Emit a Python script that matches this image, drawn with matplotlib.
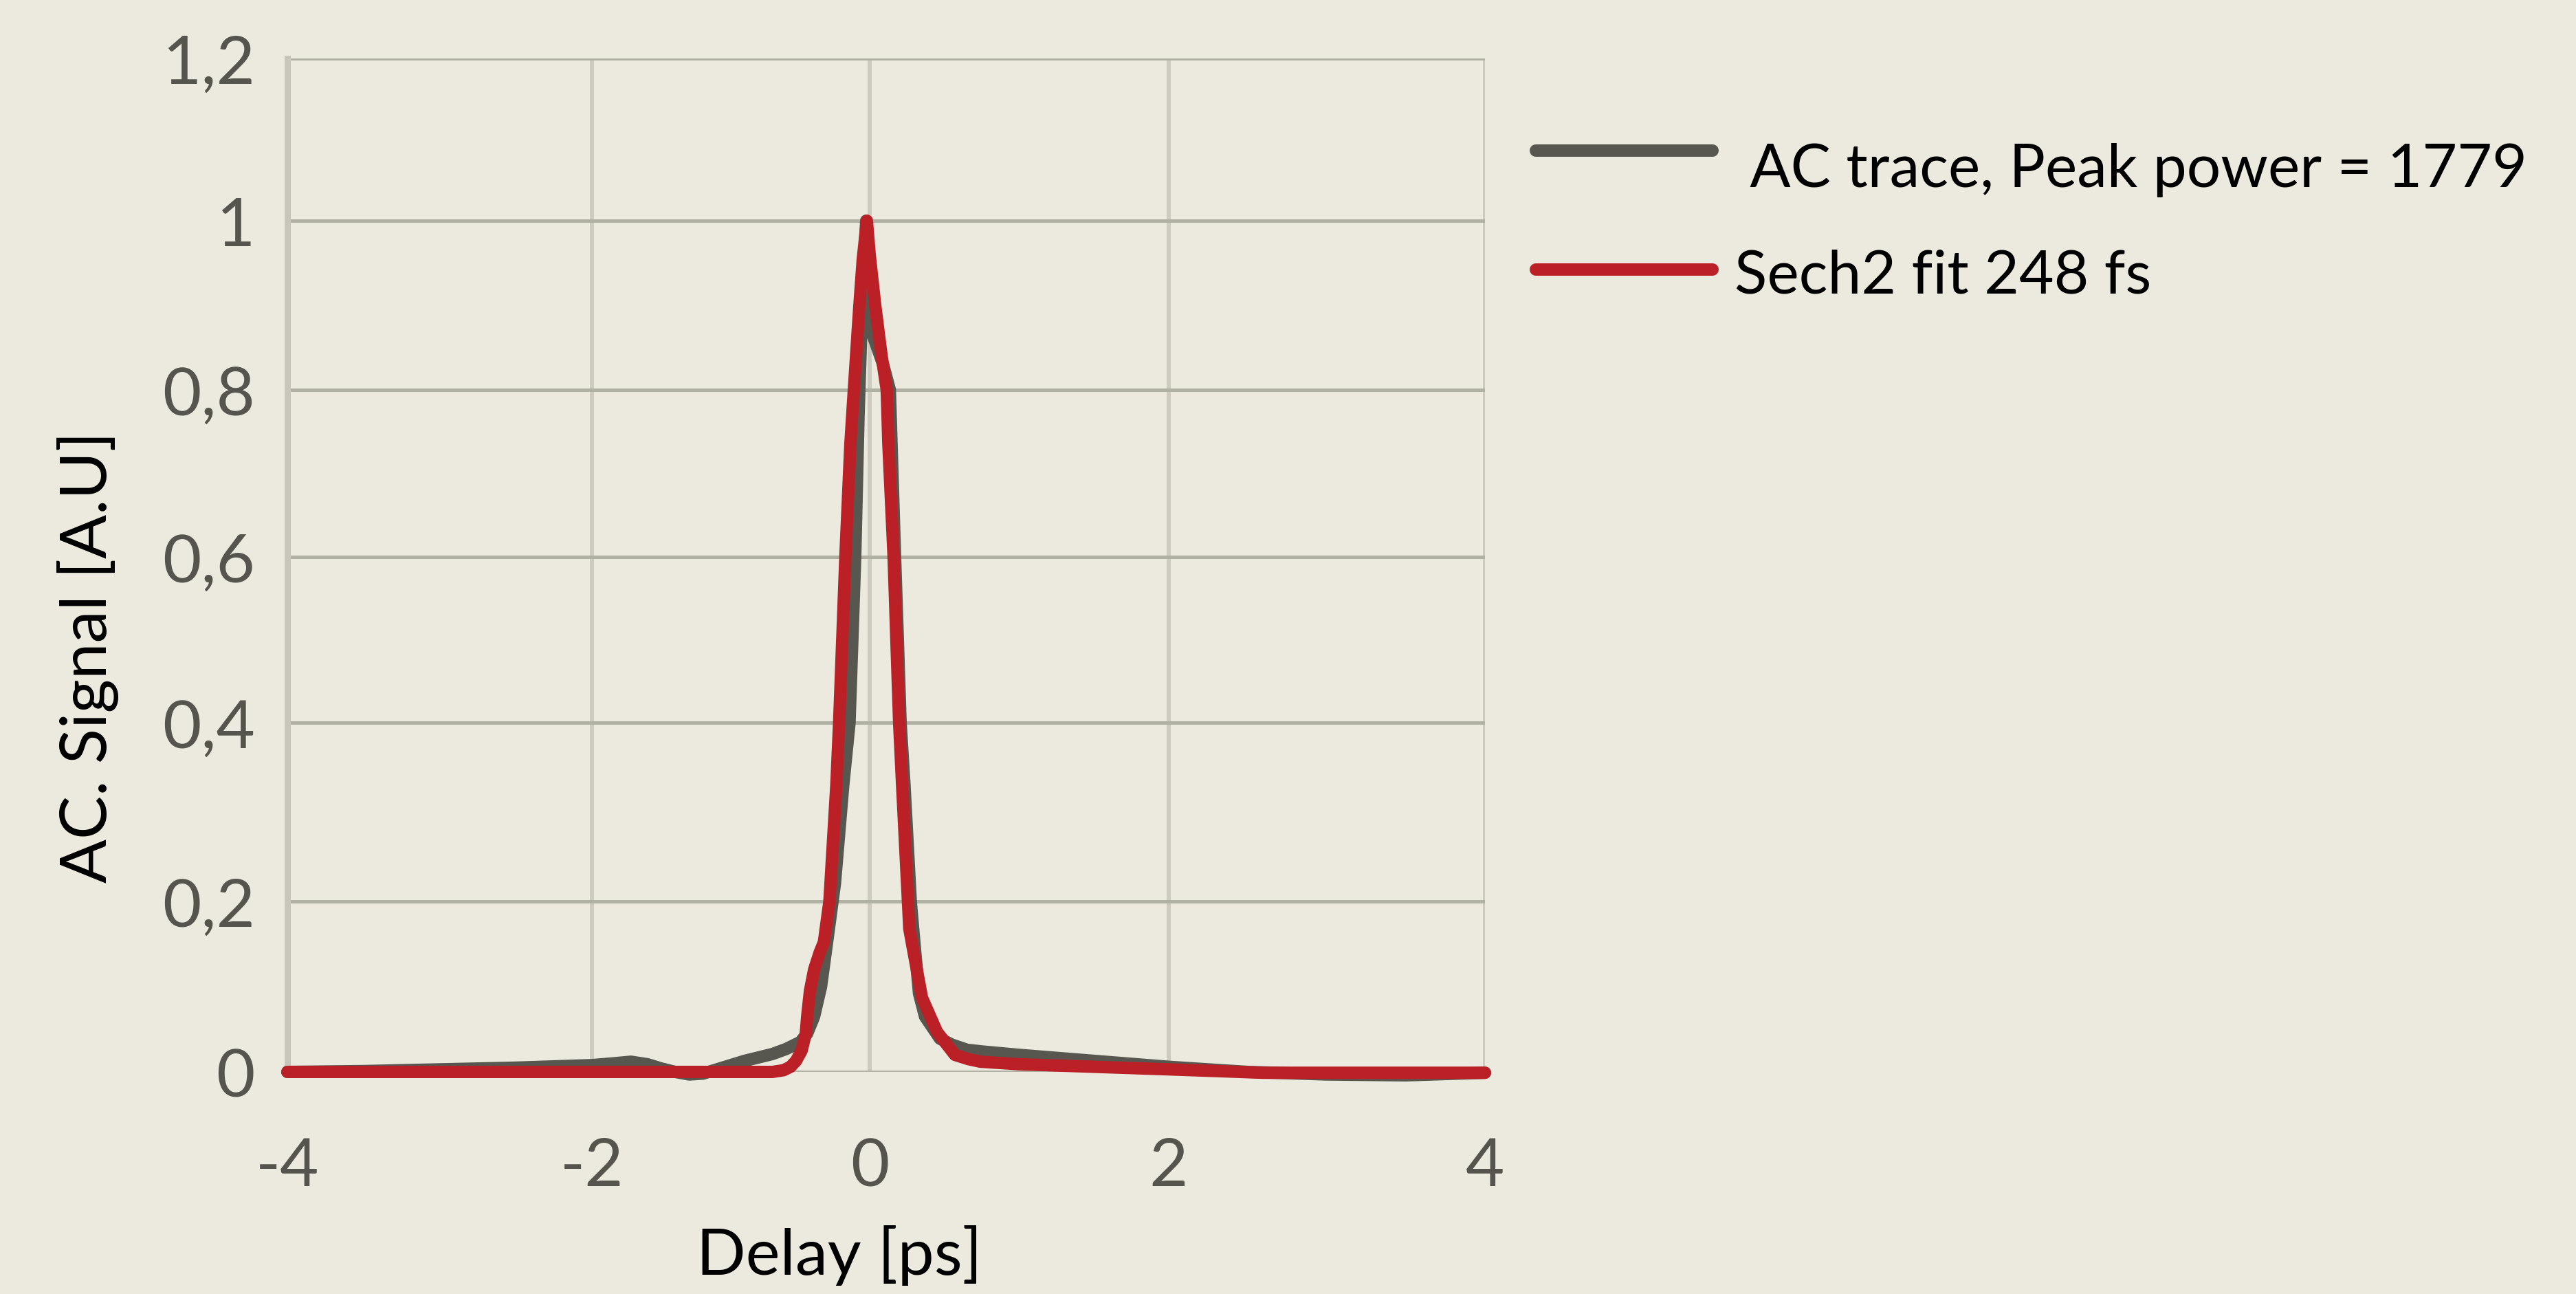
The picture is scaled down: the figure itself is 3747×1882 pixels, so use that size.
import numpy as np
import matplotlib
matplotlib.use("Agg")
import matplotlib.pyplot as plt
from matplotlib.lines import Line2D

# ---------------- data ----------------
ac_x = [-4.0, -3.5, -3.0, -2.5, -2.0, -1.85, -1.72, -1.6, -1.5, -1.4, -1.3, -1.2,
        -1.1, -1.0, -0.9, -0.8, -0.7, -0.6, -0.5, -0.45, -0.40, -0.35, -0.30,
        -0.25, -0.19, -0.145, -0.104, -0.08, -0.05, -0.025, 0.0, 0.03, 0.09,
        0.135, 0.17, 0.207, 0.233, 0.275, 0.30, 0.33, 0.37, 0.47, 0.55, 0.65,
        0.75, 1.0, 1.5, 2.0, 2.5, 3.0, 3.5, 4.0]
ac_y = [0.0, 0.001, 0.003, 0.005, 0.008, 0.010, 0.012, 0.009, 0.004, 0.0, -0.003, -0.002,
        0.003, 0.008, 0.013, 0.017, 0.021, 0.027, 0.035, 0.045, 0.065, 0.10, 0.16,
        0.22, 0.33, 0.40, 0.60, 0.77, 0.92, 1.0, 0.875, 0.86, 0.83,
        0.80, 0.60, 0.40, 0.33, 0.20, 0.15, 0.092, 0.065, 0.039, 0.032, 0.026,
        0.024, 0.020, 0.013, 0.006, 0.0, -0.003, -0.004, -0.001]

fit_x = [-4.0, -3.0, -2.0, -1.0, -0.70, -0.62, -0.57, -0.53, -0.49, -0.46, -0.45,
         -0.43, -0.40, -0.36, -0.33, -0.29, -0.24, -0.22, -0.175, -0.139, -0.114,
         -0.074, -0.05, -0.02, 0.0, 0.037, 0.08, 0.114, 0.125, 0.16, 0.197, 0.217,
         0.256, 0.265, 0.29, 0.35, 0.45, 0.57, 0.66, 0.74, 1.0, 1.5, 2.0, 2.6, 3.2, 4.0]
fit_y = [0.0, 0.0, 0.0, 0.0, 0.0, 0.002, 0.006, 0.013, 0.025, 0.045, 0.065,
         0.095, 0.12, 0.14, 0.152, 0.20, 0.33, 0.40, 0.60, 0.735, 0.80,
         0.90, 0.954, 1.0, 0.96, 0.90, 0.84, 0.80, 0.735, 0.60, 0.40, 0.33,
         0.20, 0.168, 0.144, 0.087, 0.047, 0.020, 0.015, 0.012, 0.009, 0.006, 0.003, -0.001, -0.001, -0.001]

x_ticks = [-4, -2, 0, 2, 4]
x_tick_labels = ["-4", "-2", "0", "2", "4"]
y_ticks = [0, 0.2, 0.4, 0.6, 0.8, 1.0, 1.2]
y_tick_labels = ["0", "0,2", "0,4", "0,6", "0,8", "1", "1,2"]

series_labels = [" AC trace, Peak power = 1779", "Sech2 fit 248 fs"]
x_label = "Delay [ps]"
y_label = "AC. Signal [A.U]"

# ---------------- style ----------------
BG = "#ECEADF"
GRAY = "#58574F"
RED = "#BB2026"
TICK_C = "#55554E"
HGRID = "#B1B1A3"
VGRID = "#CDCBBF"
FONT = ["Lato", "DejaVu Sans"]

W, H, DPI = 3747, 1883, 100
plt.rcParams["axes.unicode_minus"] = False
plt.rcParams["font.family"] = FONT

# The reference grid is not evenly spaced: calibrate the axes with a
# piecewise-linear function scale (grid value -> relative pixel position).
X_CAL = [0, 443, 847, 1282, 1742]
Y_CAL = [0, 248, 508, 749, 992, 1238, 1474]


def piecewise(src, dst):
    src = np.asarray(src, float)
    dst = np.asarray(dst, float)
    s0 = (dst[1] - dst[0]) / (src[1] - src[0])
    s1 = (dst[-1] - dst[-2]) / (src[-1] - src[-2])

    def f(v):
        v = np.asarray(v, float)
        out = np.interp(v, src, dst)
        out = np.where(v < src[0], dst[0] + (v - src[0]) * s0, out)
        out = np.where(v > src[-1], dst[-1] + (v - src[-1]) * s1, out)
        return out
    return f


fig = plt.figure(figsize=(W / DPI, H / DPI), dpi=DPI, facecolor=BG)
ax = fig.add_axes([418 / W, 1 - 1560 / H, 1742 / W, 1474 / H], facecolor=BG)

ax.set_xscale("function", functions=(piecewise(x_ticks, X_CAL), piecewise(X_CAL, x_ticks)))
ax.set_yscale("function", functions=(piecewise(y_ticks, Y_CAL), piecewise(Y_CAL, y_ticks)))
ax.set_xlim(x_ticks[0], x_ticks[-1])
ax.set_ylim(y_ticks[0], y_ticks[-1])

LW = 18 * 72 / DPI
ax.plot(ac_x, ac_y, color=GRAY, lw=LW, solid_capstyle="round",
        solid_joinstyle="round", clip_on=False, zorder=3)
ax.plot(fit_x, fit_y, color=RED, lw=LW, solid_capstyle="round",
        solid_joinstyle="round", clip_on=False, zorder=4)

ax.set_xticks(x_ticks)
ax.set_xticklabels(x_tick_labels)
ax.set_yticks(y_ticks)
ax.set_yticklabels(y_tick_labels)
ax.tick_params(axis="both", length=0, labelsize=70, labelcolor=TICK_C)
ax.tick_params(axis="y", pad=34)
ax.tick_params(axis="x", pad=68)

ax.set_axisbelow(True)
ax.grid(axis="y", color=HGRID, lw=5 * 72 / DPI)
ax.grid(axis="x", color=VGRID, lw=6 * 72 / DPI)
for s in ["top", "right", "bottom"]:
    ax.spines[s].set_visible(False)
ax.spines["left"].set_color("#C8C6BA")
ax.spines["left"].set_linewidth(9 * 72 / DPI)
ax.spines["left"].set_zorder(1)

fig.text(1221 / W, 1 - 1826 / H, x_label, ha="center", va="center",
         fontsize=68, color="black")
fig.text(128 / W, 1 - 956 / H, y_label, ha="center", va="center",
         rotation=90, fontsize=68, color="black")

# legend (drawn manually to match the reference placement)
leg_y = [220, 393]
leg_text_base = [272, 427]
for lab, col, ly, tb in zip(series_labels, [GRAY, RED], leg_y, leg_text_base):
    fig.add_artist(Line2D([2234 / W, 2491 / W], [1 - ly / H, 1 - ly / H],
                          transform=fig.transFigure, color=col, lw=LW,
                          solid_capstyle="round"))
    fig.text(2523 / W, 1 - tb / H, lab, ha="left", va="baseline",
             fontsize=63, color="black")

fig.savefig("out.png", dpi=DPI, facecolor=BG)
